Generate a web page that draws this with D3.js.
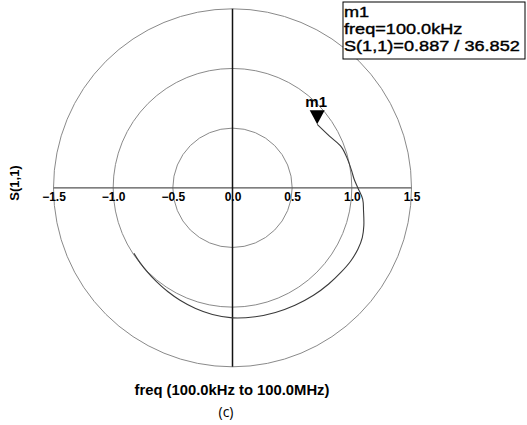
<!DOCTYPE html>
<html>
<head>
<meta charset="utf-8">
<script src="https://cdn.jsdelivr.net/npm/d3@7"></script>
<style>
  html, body { margin: 0; padding: 0; background: #fff; }
  svg { display: block; font-family: "Liberation Sans", Arial, sans-serif; }
</style>
</head>
<body>
<svg id="chart" width="527" height="425"></svg>
<script>
// S(1,1) trace, 100 kHz → 100 MHz: magnitude and phase (degrees)
const s11Mag   = [0.887, 0.922, 0.975, 0.993, 1.008, 1.022, 1.050, 1.095, 1.115, 1.145, 1.165, 1.170, 1.165, 1.152, 1.140, 1.128, 1.115, 1.105, 1.097, 1.090, 1.075, 1.058, 1.040, 1.025, 1.012, 1.003, 0.997, 0.992];
const s11Phase = [36.852, 27.9, 20.5, 14.0, 8.3, 4.0, 0.0, -5.0, -10.0, -16.0, -21.0, -26.0, -32.0, -38.0, -45.0, -53.0, -62.0, -71.0, -80.0, -90.0, -99.0, -107.0, -115.0, -122.0, -129.0, -136.0, -141.0, -146.4];

// polar grid rings and axis tick labels
const rings = [0.5, 1.0, 1.5];
const tickValues = [-1.5, -1.0, -0.5, 0.0, 0.5, 1.0, 1.5];

// marker m1
const markerName = "m1";
const markerFreq = "100.0kHz";
const markerMag = 0.887;
const markerPhase = 36.852;

const svg = d3.select("#chart");
const cx = 232.5, cy = 187.8, R = 179;

const rScale = d3.scaleLinear().domain([0, 1.5]).range([0, R]);
const xScale = d3.scaleLinear().domain([-1.5, 1.5]).range([cx - R, cx + R]);
const yScale = d3.scaleLinear().domain([-1.5, 1.5]).range([cy + R, cy - R]);

const toXY = (m, p) => {
  const a = p * Math.PI / 180;
  return [xScale(m * Math.cos(a)), yScale(m * Math.sin(a))];
};

// rings
svg.append("g").selectAll("circle").data(rings).join("circle")
  .attr("cx", cx).attr("cy", cy)
  .attr("r", d => rScale(d))
  .attr("fill", "none")
  .attr("stroke", "#8a8a8a")
  .attr("stroke-width", 1);

// horizontal axis line
svg.append("line")
  .attr("x1", xScale(-1.5)).attr("x2", xScale(1.5))
  .attr("y1", yScale(0)).attr("y2", yScale(0))
  .attr("stroke", "#555").attr("stroke-width", 1.2);

// vertical axis line
svg.append("line")
  .attr("x1", xScale(0)).attr("x2", xScale(0))
  .attr("y1", yScale(1.5)).attr("y2", yScale(-1.5))
  .attr("stroke", "#111").attr("stroke-width", 1.5);

// tick labels along the real axis
const axis = d3.axisBottom(xScale)
  .tickValues(tickValues)
  .tickSize(0)
  .tickPadding(5)
  .tickFormat(d3.format(".1f"));
const gx = svg.append("g")
  .attr("transform", `translate(0,${yScale(0)})`)
  .call(axis);
gx.select(".domain").remove();
gx.selectAll("text")
  .attr("font-family", "'Liberation Sans', Arial, sans-serif")
  .attr("font-size", 12)
  .attr("font-weight", "bold")
  .attr("fill", "#000");

// trace
const line = d3.line().curve(d3.curveCatmullRom.alpha(0.5));
const pts = s11Mag.map((m, i) => toXY(m, s11Phase[i]));
svg.append("path")
  .attr("d", line(pts))
  .attr("fill", "none")
  .attr("stroke", "#3a3a3a")
  .attr("stroke-width", 1.1);

// marker triangle (tip on the point)
const [mx, my] = toXY(markerMag, markerPhase);
svg.append("path")
  .attr("d", `M${mx},${my} L${mx - 7.5},${my - 14} L${mx + 7.5},${my - 14} Z`)
  .attr("fill", "#000");
svg.append("text")
  .attr("x", mx - 1).attr("y", my - 17)
  .attr("text-anchor", "middle")
  .attr("font-size", 15).attr("font-weight", "bold")
  .text(markerName);

// y label
svg.append("text")
  .attr("transform", "translate(19,183) rotate(-90)")
  .attr("text-anchor", "middle")
  .attr("font-size", 13).attr("font-weight", "bold")
  .text("S(1,1)");

// x label
svg.append("text")
  .attr("x", 232).attr("y", 395)
  .attr("text-anchor", "middle")
  .attr("font-size", 14.8).attr("font-weight", "bold")
  .text("freq (100.0kHz to 100.0MHz)");

// caption
svg.append("text")
  .attr("x", 226).attr("y", 417)
  .attr("text-anchor", "middle")
  .attr("font-family", "'Open Sans', sans-serif")
  .attr("font-size", 14)
  .text("(c)");

// marker readout box
const box = svg.append("g").attr("transform", "translate(343,2)");
box.append("rect")
  .attr("x", 0).attr("y", 0).attr("width", 182).attr("height", 57)
  .attr("fill", "#fff").attr("stroke", "#000").attr("stroke-width", 1);
const lines = [markerName, `freq=${markerFreq}`, `S(1,1)=${markerMag.toFixed(3)} / ${markerPhase.toFixed(3)}`];
box.selectAll("text.readout").data(lines).join("text")
  .attr("class", "readout")
  .attr("transform", (d, i) => `translate(1,${15 + i * 17}) scale(1.17,1)`)
  .attr("font-size", 15.5)
  .attr("stroke", "#000")
  .attr("stroke-width", 0.4)
  .text(d => d);
</script>
</body>
</html>
